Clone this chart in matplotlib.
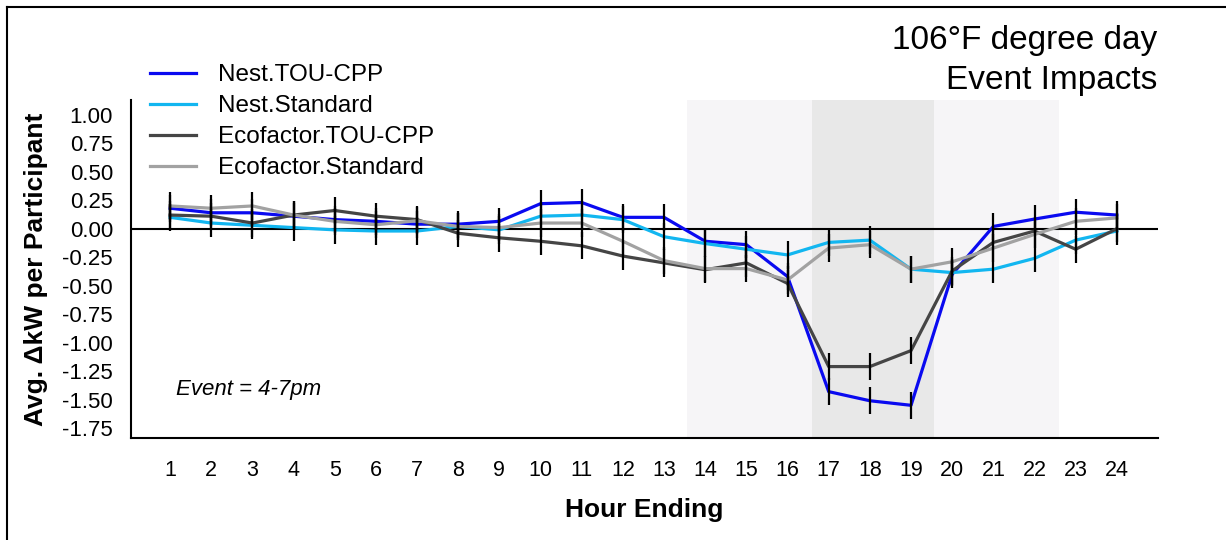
import matplotlib
matplotlib.use('Agg')
import matplotlib.pyplot as plt
from matplotlib.lines import Line2D

plt.rcParams['font.family'] = ['Liberation Sans', 'DejaVu Sans']

hours = list(range(1, 25))
nest_tou = [0.18, 0.14, 0.14, 0.11, 0.08, 0.065, 0.04, 0.04, 0.065, 0.22, 0.23, 0.10,
            0.10, -0.11, -0.14, -0.42, -1.43, -1.51, -1.55, -0.40, 0.02, 0.085, 0.145, 0.12]
nest_std = [0.10, 0.05, 0.03, 0.01, -0.01, -0.02, -0.02, 0.02, -0.01, 0.11, 0.12, 0.08,
            -0.07, -0.13, -0.18, -0.23, -0.12, -0.10, -0.355, -0.385, -0.355, -0.26, -0.10, -0.02]
eco_tou = [0.12, 0.11, 0.05, 0.12, 0.16, 0.11, 0.08, -0.04, -0.08, -0.11, -0.15, -0.24,
           -0.30, -0.36, -0.30, -0.48, -1.21, -1.21, -1.07, -0.37, -0.12, -0.02, -0.18, 0.0]
eco_std = [0.20, 0.18, 0.20, 0.12, 0.065, 0.035, 0.07, 0.02, 0.01, 0.05, 0.05, -0.11,
           -0.28, -0.35, -0.35, -0.45, -0.17, -0.14, -0.355, -0.29, -0.17, -0.05, 0.065, 0.095]
ci_half = 0.12

series = [('Nest.TOU-CPP', nest_tou, '#0a0af0'),
          ('Nest.Standard', nest_std, '#12b6f0'),
          ('Ecofactor.TOU-CPP', eco_tou, '#454545'),
          ('Ecofactor.Standard', eco_std, '#a2a2a2')]

yticks = [1.0, 0.75, 0.5, 0.25, 0.0, -0.25, -0.5, -0.75, -1.0, -1.25, -1.5, -1.75]

fig = plt.figure(figsize=(12.26, 5.40), dpi=100)
ax = fig.add_axes([131/1226, 102/540, (1158-131)/1226, (438-100)/540])

# pre/post and event shading
ax.axvspan(13.55, 22.6, color='#f6f5f7', lw=0, zorder=0)
ax.axvspan(16.6, 19.55, color='#e8e8e8', lw=0, zorder=0)
ax.axhline(0, color='black', lw=1.5, zorder=1)

for name, vals, col in series:
    ax.plot(hours, vals, color=col, lw=2.3, label=name, zorder=2)
for name, vals, col in series:
    ax.errorbar(hours, vals, yerr=ci_half, fmt='none', ecolor='black',
                elinewidth=1.6, capsize=0, zorder=3)

ax.set_xlim(0.05, 25.0)
ax.set_ylim(-1.837, 1.13)
ax.set_xticks(hours)
ax.set_xticklabels([str(h) for h in hours], fontsize=15.5)
ax.set_yticks(yticks)
ax.set_yticklabels(['%.2f' % v for v in yticks], fontsize=16)
ax.tick_params(axis='both', length=0)
ax.tick_params(axis='x', pad=16)
ax.tick_params(axis='y', pad=13)
for s in ['top', 'right']:
    ax.spines[s].set_visible(False)
for s in ['left', 'bottom']:
    ax.spines[s].set_linewidth(1.5)

ax.set_xlabel('Hour Ending', fontsize=19, fontweight='bold', labelpad=12)
ax.set_ylabel('Avg. ΔkW per Participant', fontsize=19, fontweight='bold', labelpad=10)

ax.text(176/1226, 1 - 390/540, 'Event = 4-7pm', transform=fig.transFigure,
        fontsize=16, style='italic', va='center', ha='left')

fig.text(1157/1226, 1 - 40/540, '106°F degree day', fontsize=24, ha='right', va='center')
fig.text(1157/1226, 1 - 80/540, 'Event Impacts', fontsize=24, ha='right', va='center')

ax.legend(loc='upper left', bbox_to_anchor=(150/1226, 1 - 64/540),
          bbox_transform=fig.transFigure, frameon=False, fontsize=17.5,
          handlelength=1.9, handletextpad=0.9, labelspacing=0.37,
          borderpad=0, borderaxespad=0)

# frame of the original screenshot (top and left edges)
fig.add_artist(Line2D([7/1226, 1], [1 - 7/540, 1 - 7/540], color='black', lw=1.5,
                      transform=fig.transFigure))
fig.add_artist(Line2D([7/1226, 7/1226], [0, 1 - 7/540], color='black', lw=1.5,
                      transform=fig.transFigure))

fig.savefig('out.png', dpi=100)
